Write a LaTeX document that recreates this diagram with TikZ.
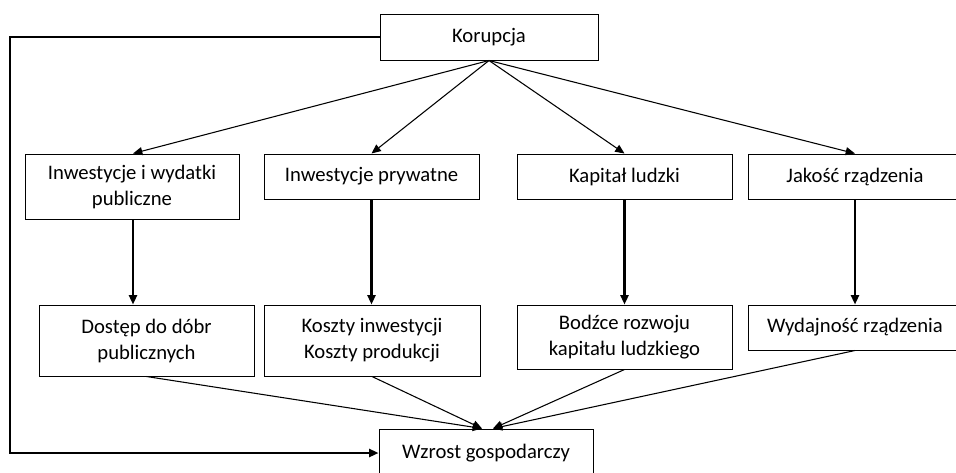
\documentclass[tikz,border=0pt]{standalone}
\usepackage{fontspec}
\setmainfont{Carlito}
\usetikzlibrary{arrows.meta}
\begin{document}
\begin{tikzpicture}[x=0.75pt,y=-0.75pt,
  box/.style={draw,line width=0.75pt,rectangle,inner sep=0pt,align=center,
    font=\fontsize{15.5}{19.5}\selectfont},
  thin/.style={line width=0.8pt,-{Triangle[length=7pt,width=6pt]}},
  thick/.style={line width=1.6pt,-{Triangle[length=7pt,width=6pt]}}]
\clip (0,0) rectangle (956,472);
\fill[white] (0,0) rectangle (956,472);
\node[box,minimum width=218*0.75pt,minimum height=46*0.75pt] (K) at (489,37) {Korupcja};
\node[box,minimum width=214*0.75pt,minimum height=65*0.75pt] (B1) at (132,186.5) {Inwestycje i wydatki\\publiczne};
\node[box,minimum width=215*0.75pt,minimum height=45*0.75pt] (B2) at (371.5,176.5) {Inwestycje prywatne};
\node[box,minimum width=215*0.75pt,minimum height=45*0.75pt] (B3) at (624.5,176.5) {Kapitał ludzki};
\node[box,minimum width=214*0.75pt,minimum height=45*0.75pt] (B4) at (855,176.5) {Jakość rządzenia};
\node[box,minimum width=215*0.75pt,minimum height=71*0.75pt] (B5) at (146.5,340.5) {Dostęp do dóbr\\publicznych};
\node[box,minimum width=216*0.75pt,minimum height=71*0.75pt] (B6) at (372,340.5) {Koszty inwestycji\\Koszty produkcji};
\node[box,minimum width=215*0.75pt,minimum height=64*0.75pt] (B7) at (624.5,337) {Bodźce rozwoju\\kapitału ludzkiego};
\node[box,minimum width=214*0.75pt,minimum height=45*0.75pt] (B8) at (855,327.5) {Wydajność rządzenia};
\node[box,minimum width=214*0.75pt,minimum height=48*0.75pt] (W) at (486,453) {Wzrost gospodarczy};
% from Korupcja
\draw[thin] (K.south) -- ([xshift=0.75pt]B1.north);
\draw[thin] (K.south) -- (B2.north);
\draw[thin] (K.south) -- (B3.north);
\draw[thin] (K.south) -- (B4.north);
% vertical
\draw[thick] ([xshift=0.75pt]B1.south) -- ([xshift=0.75pt]B1.south |- B5.north);
\draw[thick] (B2.south) -- (B2.south |- B6.north);
\draw[thick] (B3.south) -- (B3.south |- B7.north);
\draw[thick] (B4.south) -- (B4.south |- B8.north);
% converge
\draw[thin] (B5.south) -- ([xshift=-3pt]W.north);
\draw[thin] (B6.south) -- ([xshift=-3pt]W.north);
\draw[thin] (B7.south) -- ([xshift=5.25pt]W.north);
\draw[thin] (B8.south) -- ([xshift=5.25pt]W.north);
% loop
\coordinate (c1) at (10,37);
\coordinate (c2) at (10,453);
\draw[thick] (K.west) -- (c1) -- (c2) -- (W.west);
\end{tikzpicture}
\end{document}
